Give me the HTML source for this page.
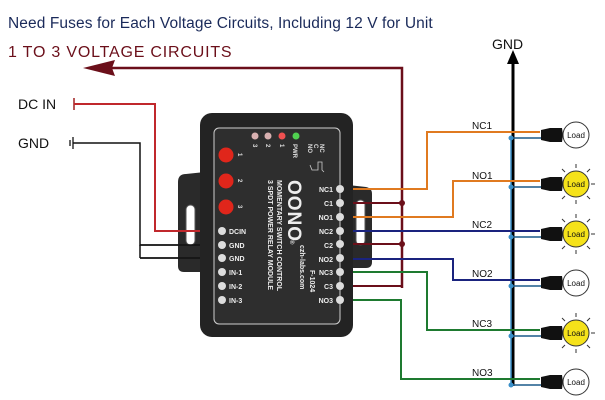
<!DOCTYPE html>
<html><head><meta charset="utf-8"><style>
html,body{margin:0;padding:0;background:#fff;width:605px;height:400px;overflow:hidden}
svg{display:block}
text{font-family:"Liberation Sans",sans-serif}
</style></head><body>
<svg width="605" height="400" viewBox="0 0 605 400" xmlns="http://www.w3.org/2000/svg">
<text x="8" y="28" font-size="15.5" fill="#1a2a5a" letter-spacing="0.1">Need Fuses for Each Voltage Circuits, Including 12 V for Unit</text>
<text x="8" y="57" font-size="16" fill="#6b0f1a" letter-spacing="0.8">1 TO 3 VOLTAGE CIRCUITS</text>

<polyline points="402,288 402,68 112,68" fill="none" stroke="#6b0f1a" stroke-width="2.5"/>
<polygon points="83,68 115,60 112,68 115,76" fill="#6b0f1a"/>

<text x="18" y="109" font-size="14" fill="#111">DC IN</text>
<text x="18" y="148" font-size="14" fill="#111">GND</text>
<line x1="74" y1="98" x2="74" y2="110" stroke="#a02020" stroke-width="1.5"/>
<polyline points="74,104 155,104 155,231 205,231" fill="none" stroke="#c0282c" stroke-width="2"/>
<line x1="70" y1="140" x2="70" y2="146" stroke="#333" stroke-width="1.5"/>
<line x1="73" y1="137" x2="73" y2="149" stroke="#333" stroke-width="1.5"/>
<polyline points="73,143 140,143 140,245 205,245" fill="none" stroke="#111" stroke-width="1.5"/>
<polyline points="140,258 205,258" fill="none" stroke="#111" stroke-width="1.5"/>
<line x1="140" y1="245" x2="140" y2="258" stroke="#111" stroke-width="1.5"/>

<text x="492" y="49" font-size="14" fill="#111">GND</text>
<line x1="513" y1="60" x2="513" y2="386" stroke="#000" stroke-width="3"/>
<polygon points="513,50 507,64 519,64" fill="#000"/>
<line x1="511" y1="136" x2="511" y2="386" stroke="#3a8fc8" stroke-width="1.5"/>

<g fill="none" stroke-width="2">
<polyline points="350,189 427,189 427,132 540,132" stroke="#e07a20"/>
<polyline points="350,217 453,217 453,181 540,181" stroke="#e07a20"/>
<polyline points="350,231 540,231" stroke="#1a237e"/>
<polyline points="350,259 453,259 453,280 540,280" stroke="#1a237e"/>
<polyline points="350,272 427,272 427,330 540,330" stroke="#1e7a30"/>
<polyline points="350,300 401,300 401,379 540,379" stroke="#1e7a30"/>
<polyline points="350,203 402,203" stroke="#6b0f1a"/>
<polyline points="350,244 402,244" stroke="#6b0f1a"/>
<polyline points="350,286 402,286" stroke="#6b0f1a"/>
</g>
<circle cx="402" cy="203" r="3" fill="#6b0f1a"/><circle cx="402" cy="244" r="3" fill="#6b0f1a"/>

<g font-size="10" fill="#111">
<text x="472" y="129">NC1</text><text x="472" y="179">NO1</text><text x="472" y="228">NC2</text>
<text x="472" y="277">NO2</text><text x="472" y="327">NC3</text><text x="472" y="376">NO3</text>
</g>

<g stroke="#1a5a8a" stroke-width="1.5" fill="none">
<line x1="511" y1="138" x2="545" y2="138"/><line x1="511" y1="187" x2="545" y2="187"/>
<line x1="511" y1="237" x2="545" y2="237"/><line x1="511" y1="286" x2="545" y2="286"/>
<line x1="511" y1="336" x2="545" y2="336"/><line x1="511" y1="385" x2="545" y2="385"/>
</g>
<g fill="#3a8fc8">
<circle cx="511" cy="138" r="2.5"/><circle cx="511" cy="187" r="2.5"/><circle cx="511" cy="237" r="2.5"/>
<circle cx="511" cy="286" r="2.5"/><circle cx="511" cy="336" r="2.5"/><circle cx="511" cy="385" r="2.5"/>
</g>
<defs>
<g id="sock"><path d="M541,-5 L550,-7 L562,-7 L563,0 L562,7 L550,7 L541,5Z" fill="#111"/></g>
<g id="rays" stroke="#333" stroke-width="1"><line x1="576" y1="-16" x2="576" y2="-20"/><line x1="576" y1="16" x2="576" y2="20"/><line x1="591" y1="0" x2="595" y2="0"/><line x1="587" y1="-12" x2="590" y2="-15"/><line x1="587" y1="12" x2="590" y2="15"/><line x1="565" y1="-12" x2="562" y2="-15"/><line x1="565" y1="12" x2="562" y2="15"/></g>
</defs>
<g font-size="8" text-anchor="middle" fill="#111">
<g transform="translate(0,135)"><use href="#sock"/><circle cx="576" cy="0" r="13" fill="#fff" stroke="#333"/><text x="576" y="3">Load</text></g>
<g transform="translate(0,184)"><use href="#rays"/><use href="#sock"/><circle cx="576" cy="0" r="13" fill="#f5e21a" stroke="#333"/><text x="576" y="3">Load</text></g>
<g transform="translate(0,234)"><use href="#rays"/><use href="#sock"/><circle cx="576" cy="0" r="13" fill="#f5e21a" stroke="#333"/><text x="576" y="3">Load</text></g>
<g transform="translate(0,283)"><use href="#sock"/><circle cx="576" cy="0" r="13" fill="#fff" stroke="#333"/><text x="576" y="3">Load</text></g>
<g transform="translate(0,333)"><use href="#rays"/><use href="#sock"/><circle cx="576" cy="0" r="13" fill="#f5e21a" stroke="#333"/><text x="576" y="3">Load</text></g>
<g transform="translate(0,382)"><use href="#sock"/><circle cx="576" cy="0" r="13" fill="#fff" stroke="#333"/><text x="576" y="3">Load</text></g>
</g>

<path d="M178,182 Q178,174 186,174 L205,172 L205,272 L184,272 Q178,272 178,266 Z" fill="#2a2a2a"/>
<rect x="186" y="205" width="9" height="40" rx="4.5" fill="#fff" stroke="#555"/>
<path d="M348,185 L366,187 Q372,188 372,194 L372,262 Q372,268 366,268 L348,268 Z" fill="#2a2a2a"/>
<rect x="356" y="200" width="9" height="45" rx="4.5" fill="#fff" stroke="#555"/>
<g fill="none" stroke-width="2">
<line x1="155" y1="231" x2="215" y2="231" stroke="#c0282c"/>
<line x1="140" y1="245" x2="215" y2="245" stroke="#111" stroke-width="1.5"/>
<line x1="140" y1="258" x2="215" y2="258" stroke="#111" stroke-width="1.5"/>
<line x1="340" y1="189" x2="372" y2="189" stroke="#e07a20"/>
<line x1="340" y1="203" x2="372" y2="203" stroke="#6b0f1a"/>
<line x1="340" y1="217" x2="372" y2="217" stroke="#e07a20"/>
<line x1="340" y1="231" x2="372" y2="231" stroke="#1a237e"/>
<line x1="340" y1="244" x2="372" y2="244" stroke="#6b0f1a"/>
<line x1="340" y1="259" x2="372" y2="259" stroke="#1a237e"/>
</g>
<rect x="200" y="113" width="153" height="224" rx="12" fill="#232323"/>
<rect x="214" y="128" width="126" height="196" rx="5" fill="#2e2e2e" stroke="#cfcfcf" stroke-width="1"/>
<circle cx="226" cy="155" r="7.5" fill="#e0261b"/><circle cx="226" cy="181" r="7.5" fill="#e0261b"/><circle cx="226" cy="207" r="7.5" fill="#e0261b"/>
<g font-size="6" fill="#ddd" font-weight="bold">
<text x="238" y="157" transform="rotate(90 240 155)">1</text>
<text x="238" y="183" transform="rotate(90 240 181)">2</text>
<text x="238" y="209" transform="rotate(90 240 207)">3</text>
</g>
<circle cx="255" cy="136" r="3.5" fill="#d8b0b0"/><circle cx="268" cy="136" r="3.5" fill="#d8b0b0"/>
<circle cx="282" cy="136" r="3.5" fill="#f05050"/><circle cx="296" cy="136" r="3.5" fill="#50d050"/>
<g font-size="6" fill="#ddd" font-weight="bold">
<text transform="translate(253,144) rotate(90)">3</text>
<text transform="translate(266,144) rotate(90)">2</text>
<text transform="translate(280,144) rotate(90)">1</text>
<text transform="translate(293,144) rotate(90)">PWR</text>
<text transform="translate(308,144) rotate(90)">NO</text>
<text transform="translate(314,144) rotate(90)">C</text>
<text transform="translate(320,144) rotate(90)">NC</text>
</g>
<polyline points="310,165 312,170 318,170 318,162 322,162 322,170 324,172" fill="none" stroke="#ccc" stroke-width="0.8"/>
<g fill="#eee" font-weight="bold">
<text transform="translate(288,180) rotate(90)" font-size="19" letter-spacing="1">OONO</text>
<text transform="translate(290,240) rotate(90)" font-size="6">®</text>
<text transform="translate(277,180) rotate(90)" font-size="7">MOMENTARY SWITCH CONTROL</text>
<text transform="translate(268,180) rotate(90)" font-size="7">3 SPDT POWER RELAY MODULE</text>
<text transform="translate(300,245) rotate(90)" font-size="7">czh-labs.com</text>
<text transform="translate(310,270) rotate(90)" font-size="7">F-1024</text>
</g>
<g font-size="7" font-weight="bold" fill="#eee">
<text x="229" y="234">DCIN</text><text x="229" y="248">GND</text><text x="229" y="261">GND</text>
<text x="229" y="275">IN-1</text><text x="229" y="289">IN-2</text><text x="229" y="303">IN-3</text>
<g text-anchor="end">
<text x="333" y="192">NC1</text><text x="333" y="206">C1</text><text x="333" y="220">NO1</text>
<text x="333" y="234">NC2</text><text x="333" y="248">C2</text><text x="333" y="262">NO2</text>
<text x="333" y="275">NC3</text><text x="333" y="289">C3</text><text x="333" y="303">NO3</text>
</g>
</g>
<g fill="#ddd">
<circle cx="222" cy="231" r="4"/><circle cx="222" cy="245" r="4"/><circle cx="222" cy="258" r="4"/>
<circle cx="222" cy="272" r="4"/><circle cx="222" cy="286" r="4"/><circle cx="222" cy="300" r="4"/>
<circle cx="340" cy="189" r="4"/><circle cx="340" cy="203" r="4"/><circle cx="340" cy="217" r="4"/>
<circle cx="340" cy="231" r="4"/><circle cx="340" cy="244" r="4"/><circle cx="340" cy="258" r="4"/>
<circle cx="340" cy="272" r="4"/><circle cx="340" cy="286" r="4"/><circle cx="340" cy="300" r="4"/>
</g>
</svg>
</body></html>
